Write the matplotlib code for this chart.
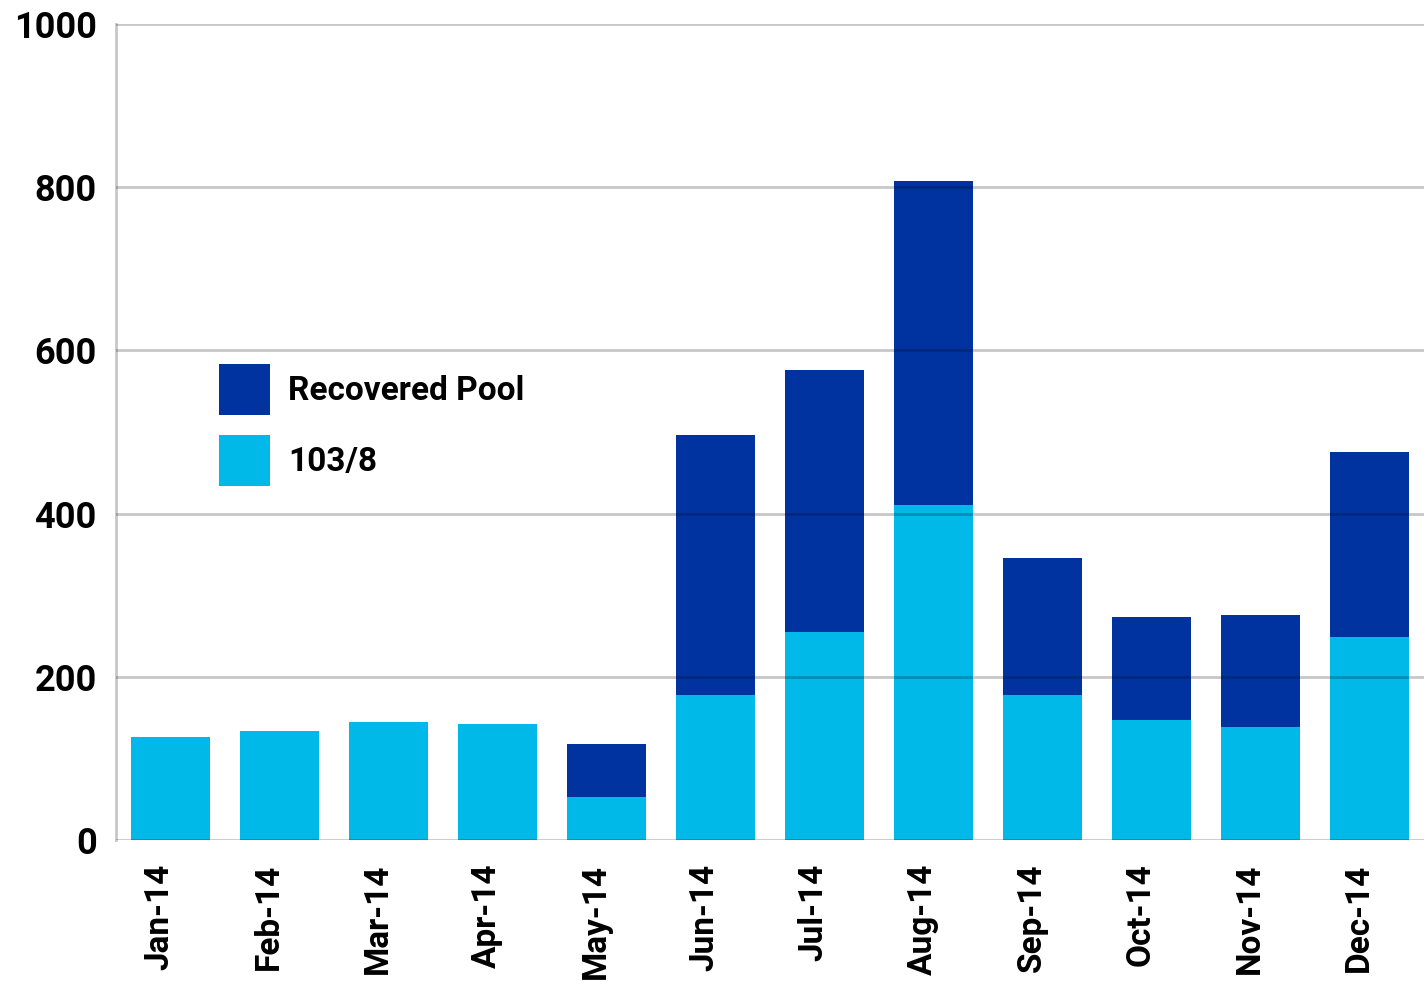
import matplotlib
matplotlib.use("Agg")
import matplotlib.pyplot as plt
import matplotlib.transforms as mtransforms
import numpy as np

months = ["Jan-14", "Feb-14", "Mar-14", "Apr-14", "May-14", "Jun-14",
          "Jul-14", "Aug-14", "Sep-14", "Oct-14", "Nov-14", "Dec-14"]
series_103_8 = [126, 134, 145, 142, 53, 178, 255, 411, 178, 147, 139, 249]
recovered_pool = [0, 0, 0, 0, 65, 318, 321, 397, 168, 126, 137, 227]
y_ticks = [0, 200, 400, 600, 800, 1000]

light = "#00B9E8"
dark = "#0033A0"
grid_c = "#c8c8c8"

FONT = ['Roboto', 'DejaVu Sans']
plt.rcParams['font.family'] = FONT

fig = plt.figure(figsize=(14.27, 9.85), dpi=100)
ax = fig.add_axes([0.0813, 0.1472, 0.9167, 0.8284])

x = np.arange(len(months))
w = 0.725
b1 = ax.bar(x, series_103_8, width=w, color=light, zorder=2, label="103/8")
b2 = ax.bar(x, recovered_pool, width=w, bottom=series_103_8, color=dark, zorder=2,
            label="Recovered Pool")

ax.set_xlim(-0.5, 11.5)
ax.set_ylim(0, 1000)
ax.set_yticks(y_ticks)
ax.set_yticklabels([str(v) for v in y_ticks], fontsize=26, fontweight='bold')
ax.set_xticks(x)
ax.set_xticklabels(months, rotation=90, fontsize=24, fontweight='bold')
ax.tick_params(axis='y', length=0, pad=14)
ax.tick_params(axis='x', length=0, pad=17)

shift = mtransforms.ScaledTranslation(-0.11, 0, fig.dpi_scale_trans)
for lab in ax.get_xticklabels():
    lab.set_transform(lab.get_transform() + shift)

for v in y_ticks:
    ax.axhline(v, color='black', lw=2, zorder=3, alpha=0.22)
for s in ['top', 'right', 'bottom']:
    ax.spines[s].set_visible(False)
ax.spines['left'].set_color(grid_c)
ax.spines['left'].set_linewidth(2)

leg = ax.legend(handles=[b2, b1], loc='upper left', bbox_to_anchor=(0.0787, 0.583),
                frameon=False, borderpad=0, borderaxespad=0,
                prop={'family': FONT, 'weight': 'bold', 'size': 24},
                handlelength=1.53, handleheight=1.95, handletextpad=0.55,
                labelspacing=0.62)

fig.savefig("out.png", dpi=100)
